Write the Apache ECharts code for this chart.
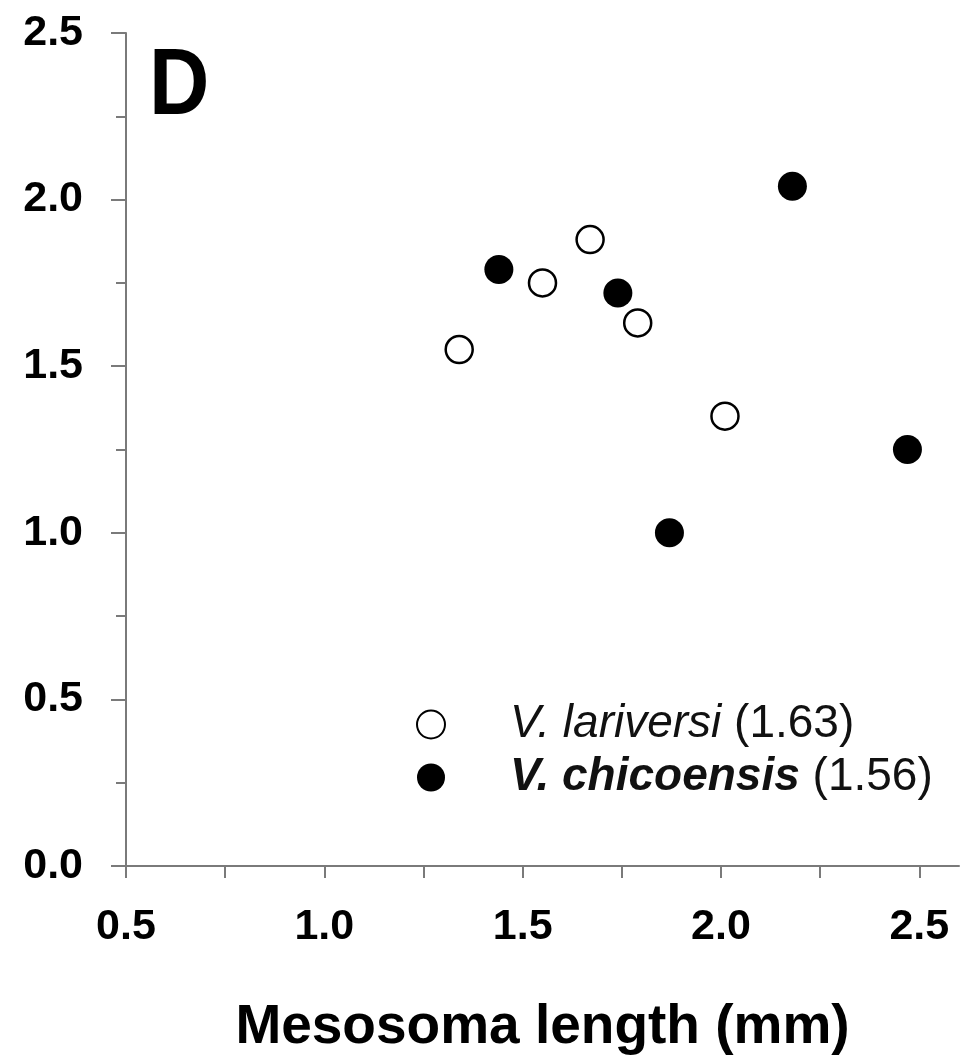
<!DOCTYPE html>
<html>
<head>
<meta charset="utf-8">
<script src="https://cdn.jsdelivr.net/npm/echarts@6/dist/echarts.min.js"></script>
<style>
  html, body { margin: 0; padding: 0; background: #fff; }
  #showChart { width: 977px; height: 1057px; }
</style>
</head>
<body>
<div id="showChart"></div>
<script>
// mesosoma length (mm) vs. value
var lariversiX = [1.34, 1.55, 1.67, 1.79, 2.01];
var lariversiY = [1.55, 1.75, 1.88, 1.63, 1.35];
var chicoensisX = [1.44, 1.74, 1.87, 2.18, 2.47];
var chicoensisY = [1.79, 1.72, 1.00, 2.04, 1.25];

var xTicks = [0.5, 0.75, 1.0, 1.25, 1.5, 1.75, 2.0, 2.25, 2.5];
var xLabels = [0.5, 1.0, 1.5, 2.0, 2.5];

var lariversiName = 'V. lariversi (1.63)';
var chicoensisName = 'V. chicoensis (1.56)';

function pairs(xs, ys) {
    var out = [];
    for (var i = 0; i < xs.length; i++) {
        out.push([xs[i], ys[i]]);
    }
    return out;
}

var font = "'Liberation Sans', Arial, sans-serif";
var axisGray = '#7a7a7a';

option = {
    backgroundColor: '#fff',
    animation: false,
    textStyle: { fontFamily: font },
    graphic: [{
        type: 'text',
        x: 149,
        y: 88,
        scaleX: 0.88,
        style: {
            text: 'D',
            font: 'bold 95px ' + font,
            fill: '#000',
            verticalAlign: 'middle'
        }
    }],
    grid: {
        left: 126,
        right: 18,
        top: 33,
        bottom: 191,
        outerBoundsMode: 'none'
    },
    legend: {
        orient: 'vertical',
        left: 411,
        top: 693,
        itemWidth: 28,
        itemHeight: 28,
        itemGap: 0,
        selectedMode: false,
        data: [lariversiName, chicoensisName],
        formatter: function (name) {
            var cut = name.indexOf(' (');
            var sp = name.substring(0, cut);
            var val = name.substring(cut + 1);
            var style = name === chicoensisName ? 'b' : 'i';
            return '{' + style + '|' + sp + '} {n|' + val + '}';
        },
        textStyle: {
            color: '#111',
            fontSize: 46,
            lineHeight: 53,
            rich: {
                i: { fontStyle: 'italic', fontSize: 46, padding: [0, 0, 0, 60], fontFamily: font },
                b: { fontStyle: 'italic', fontWeight: 'bold', fontSize: 46, padding: [0, 0, 0, 60], fontFamily: font },
                n: { fontSize: 46, fontFamily: font }
            }
        }
    },
    xAxis: {
        type: 'value',
        min: 0.5,
        max: 2.6,
        name: 'Mesosoma length (mm)',
        nameLocation: 'middle',
        nameGap: 134,
        nameTextStyle: { fontSize: 55, fontWeight: 'bold', color: '#000', fontFamily: font },
        splitLine: { show: false },
        axisLine: { onZero: false, lineStyle: { color: axisGray, width: 2 } },
        axisTick: {
            length: 12,
            customValues: xTicks,
            lineStyle: { color: axisGray, width: 2 }
        },
        axisLabel: {
            customValues: xLabels,
            margin: 40,
            fontSize: 43,
            fontWeight: 'bold',
            color: '#000',
            formatter: function (v) { return v.toFixed(1); }
        }
    },
    yAxis: {
        type: 'value',
        min: 0,
        max: 2.5,
        interval: 0.5,
        splitLine: { show: false },
        axisLine: { show: true, lineStyle: { color: axisGray, width: 2 } },
        axisTick: { show: true, length: 15, lineStyle: { color: axisGray, width: 2 } },
        minorTick: { show: true, splitNumber: 2, length: 10, lineStyle: { color: axisGray, width: 2 } },
        axisLabel: {
            margin: 43,
            fontSize: 43,
            fontWeight: 'bold',
            color: '#000',
            formatter: function (v) { return v.toFixed(1); }
        }
    },
    series: [{
        name: lariversiName,
        type: 'scatter',
        symbol: 'circle',
        symbolSize: 27,
        itemStyle: { color: '#fff', borderColor: '#000', borderWidth: 2.5, opacity: 1 },
        data: pairs(lariversiX, lariversiY)
    }, {
        name: chicoensisName,
        type: 'scatter',
        symbol: 'circle',
        symbolSize: 29,
        itemStyle: { color: '#000', opacity: 1 },
        data: pairs(chicoensisX, chicoensisY)
    }]
};

var chartOutChar = echarts.init(document.getElementById('showChart'));
chartOutChar.setOption(option);
</script>
</body>
</html>
